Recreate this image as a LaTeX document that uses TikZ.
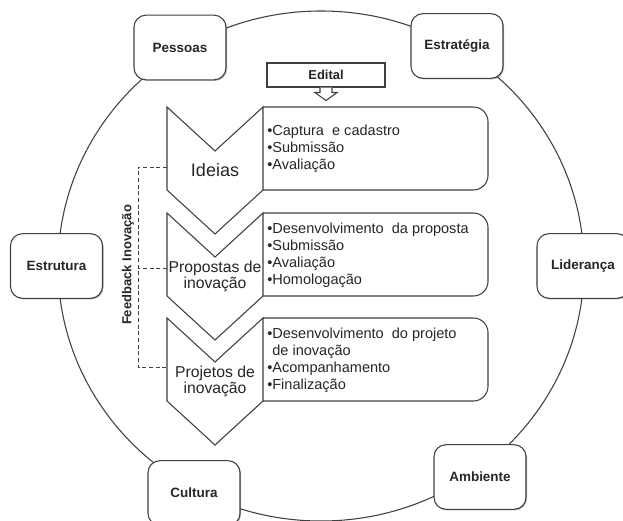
\documentclass[tikz,border=0pt]{standalone}
\usepackage{fontspec}
\setmainfont{Liberation Sans}
\usetikzlibrary{positioning, shadows}

\definecolor{linegray}{HTML}{404040}
\definecolor{textgray}{HTML}{262626}

\begin{document}
\begin{tikzpicture}[
    x=0.75pt, y=-0.75pt,
    % Styles for the ring, the boxes and the stages
    ring/.style={draw=linegray, line width=0.8pt},
    factor/.style={draw=linegray, line width=0.8pt, rounded corners=9pt, fill=white,
        minimum width=69pt, minimum height=48.5pt, text=textgray,
        font=\fontsize{10.1}{12}\selectfont\bfseries,
        drop shadow={shadow xshift=0.8pt, shadow yshift=-0.8pt, opacity=0.3, fill=black}},
    notice/.style={draw=linegray, line width=0.8pt, fill=white, minimum width=88.5pt,
        minimum height=18pt, text=textgray, font=\fontsize{9.7}{11}\selectfont\bfseries},
    chevron/.style={draw=linegray, line width=0.8pt, fill=white, line join=miter},
    stagebox/.style={draw=linegray, line width=0.8pt, rounded corners=11pt},
    stagename/.style={align=center, inner sep=0pt, text=textgray,
        font=\fontsize{11.8}{10.5}\selectfont},
    stagelist/.style={align=left, anchor=north west, inner sep=0pt, text=textgray,
        font=\fontsize{10.9}{12.75}\selectfont},
    feedback/.style={draw=linegray, line width=0.7pt, dash pattern=on 3pt off 2pt}
]
    \useasboundingbox (0,0) rectangle (623,520);

    % --- RING ---
    \coordinate (center) at (321,266);
    \draw [ring] (center) ellipse [x radius=197.25pt, y radius=191.25pt];

    % --- FACTORS ---
    \node [factor] (pessoas) at (180,47.5) {Pessoas};
    \node [factor] (estrategia) at (457,46) {Estratégia};
    \node [factor] (estrutura) at (56.5,266) {Estrutura};
    \node [factor] (lideranca) at (583,266) {Liderança};
    \node [factor] (cultura) at (194,493) {Cultura};
    \node [factor] (ambiente) at (480,477) {Ambiente};

    % --- EDITAL ---
    \node [notice] (edital) at (326,75) {Edital};
    \draw [chevron] ([xshift=-4.5pt]edital.south) -- ++(0,5) -- ++(-5,0)
        -- ++(11,8) -- ++(11,-8) -- ++(-5,0) -- ++(0,-5);

    % --- STAGES ---
    % Ideias
    \draw [chevron] (167,107) -- (215,151) -- (263,107) -- (263,190)
        -- (215,234) -- (167,190) -- cycle;
    \draw [stagebox] (263,107) -- (488,107) -- (488,190) -- (263,190);
    \node [stagename, font=\fontsize{13.5}{14}\selectfont] (ideias) at (215,170) {Ideias};
    \node [stagelist] (ideiasList) at (267,124.5)
        {•Captura\ \ e cadastro\\•Submissão\\•Avaliação};

    % Propostas de inovacao
    \draw [chevron] (167,213) -- (215,257) -- (263,213) -- (263,296)
        -- (215,340) -- (167,296) -- cycle;
    \draw [stagebox] (263,213) -- (488,213) -- (488,296) -- (263,296);
    \node [stagename] (propostas) at (215,276) {Propostas de\\inovação};
    \node [stagelist] (propostasList) at (267,222.5)
        {•Desenvolvimento\ \ da proposta\\•Submissão\\•Avaliação\\•Homologação};

    % Projetos de inovacao
    \draw [chevron] (167,318) -- (215,362) -- (263,318) -- (263,401)
        -- (215,445) -- (167,401) -- cycle;
    \draw [stagebox] (263,318) -- (488,318) -- (488,401) -- (263,401);
    \node [stagename] (projetos) at (215,381) {Projetos de\\inovação};
    \node [stagelist] (projetosList) at (267,327.5)
        {•Desenvolvimento\ \ do projeto\\\hphantom{•}de inovação\\•Acompanhamento\\•Finalização};

    % --- FEEDBACK ---
    \coordinate (ideiasIn) at (167,167);
    \coordinate (propostasIn) at (167,268);
    \coordinate (projetosIn) at (167,367);
    \draw [feedback] (ideiasIn) -- ++(-29,0) |- (projetosIn);
    \draw [feedback] (propostasIn) -- ++(-29,0);
    \node [rotate=90, text=textgray, font=\fontsize{9.75}{11}\selectfont\bfseries]
        (feedbackLabel) at (128,265) {Feedback Inovação};

\end{tikzpicture}
\end{document}
